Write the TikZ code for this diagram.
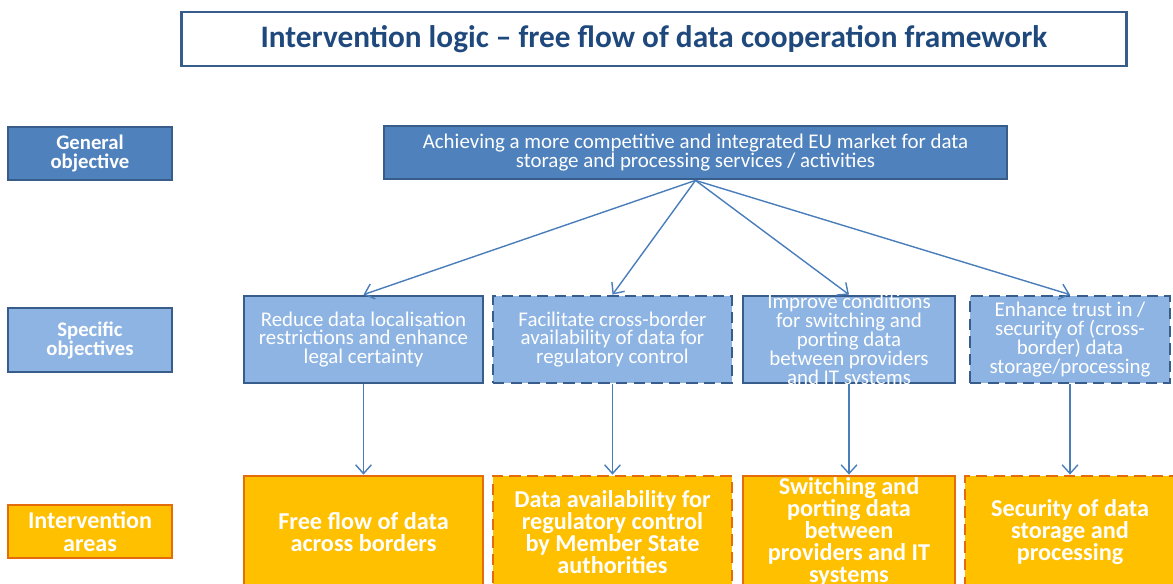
\documentclass[tikz,border=0pt]{standalone}
\usepackage{fontspec}
\setmainfont{Carlito}
\usetikzlibrary{arrows.meta}
\definecolor{hdblue}{HTML}{1F497D}
\definecolor{gfill}{HTML}{4F81BD}
\definecolor{gline}{HTML}{385D8A}
\definecolor{sfill}{HTML}{8EB4E3}
\definecolor{afill}{HTML}{FFC000}
\definecolor{aline}{HTML}{E46C0A}
\definecolor{connblue}{HTML}{4A7EBB}
\begin{document}
\begin{tikzpicture}[x=0.02cm, y=-0.02cm,
  >={Straight Barb[length=5pt, width=9pt]},
  lvl/.style={draw=gline, line width=1.6pt, text=white, align=center, inner sep=0pt},
  genbox/.style={lvl, fill=gfill},
  specbox/.style={lvl, fill=sfill},
  areabox/.style={lvl, draw=aline, fill=afill},
  optional/.style={dash pattern=on 6.5pt off 3.5pt},
  stxt/.style={font=\fontsize{11.9}{10.8}\selectfont},
  atxt/.style={font=\bfseries\fontsize{13.8}{12.6}\selectfont},
  conn/.style={->, draw=connblue, line width=0.8pt}]
  %\draw[help lines] (0,0) grid[step=50] (1173,583);
  \useasboundingbox (0,0) rectangle (1173,583);
  \clip (0,0) rectangle (1173,583);

  % title
  \node[draw=gline, line width=1.3pt, minimum width=18.9cm, minimum height=1.08cm,
    text=hdblue, font=\bfseries\fontsize{17.8}{20}\selectfont] (title) at (654, 39)
    {Intervention logic -- free flow of data cooperation framework};

  % row labels on the left
  \node[genbox, minimum width=3.28cm, minimum height=1.06cm,
    font=\bfseries\fontsize{11.8}{10.5}\selectfont] (lgen) at (90, 153.5) {General\\objective};
  \node[specbox, minimum width=3.28cm, minimum height=1.28cm,
    font=\bfseries\fontsize{11.8}{10.8}\selectfont] (lspec) at (90, 340) {Specific\\objectives};
  \node[areabox, minimum width=3.28cm, minimum height=1.06cm,
    font=\bfseries\fontsize{13.7}{13}\selectfont] (larea) at (90, 531.5) {Intervention\\areas};

  % general objective
  \node[genbox, stxt, minimum width=12.46cm, minimum height=1.06cm] (gen) at (695.5, 152.5)
    {Achieving a more competitive and integrated EU market for data\\
     storage and processing services / activities};

  % specific objectives
  \node[specbox, stxt, minimum width=4.78cm, minimum height=1.74cm] (s1) at (363.5, 339.5)
    {Reduce data localisation\\restrictions and enhance\\legal certainty};
  \node[specbox, stxt, optional, minimum width=4.78cm, minimum height=1.74cm] (s2) at (612.5, 339.5)
    {Facilitate cross-border\\availability of data for\\regulatory control};
  \node[specbox, minimum width=4.24cm, minimum height=1.74cm] (s3) at (849, 339.5) {};
  \node[stxt, text=white, align=center, inner sep=0pt] (s3t) at (849, 341)
    {Improve conditions\\for switching and\\porting data\\between providers\\and IT systems};
  \node[specbox, stxt, optional, minimum width=4cm, minimum height=1.74cm] (s4) at (1070, 339.5)
    {Enhance trust in /\\security of (cross-\\border) data\\storage/processing};

  % intervention areas
  \node[areabox, atxt, minimum width=4.78cm, minimum height=2.24cm] (i1) at (363.5, 532)
    {Free flow of data\\across borders};
  \node[areabox, atxt, optional, minimum width=4.78cm, minimum height=2.24cm] (i2) at (612.5, 532)
    {Data availability for\\regulatory control\\by Member State\\authorities};
  \node[areabox, minimum width=4.24cm, minimum height=2.24cm] (i3) at (849, 532) {};
  \node[atxt, text=white, align=center, inner sep=0pt] (i3t) at (849, 532)
    {Switching and\\porting data\\between\\providers and IT\\systems};
  \node[areabox, atxt, optional, minimum width=4.2cm, minimum height=2.24cm] (i4) at (1070, 532)
    {Security of data\\storage and\\processing};

  \foreach \s in {s1, s2, s3, s4} \draw[conn] (gen.south) -- (\s.north);
  \foreach \s/\i in {s1/i1, s2/i2, s3/i3, s4/i4} \draw[conn] (\s.south) -- (\i.north);
\end{tikzpicture}
\end{document}
